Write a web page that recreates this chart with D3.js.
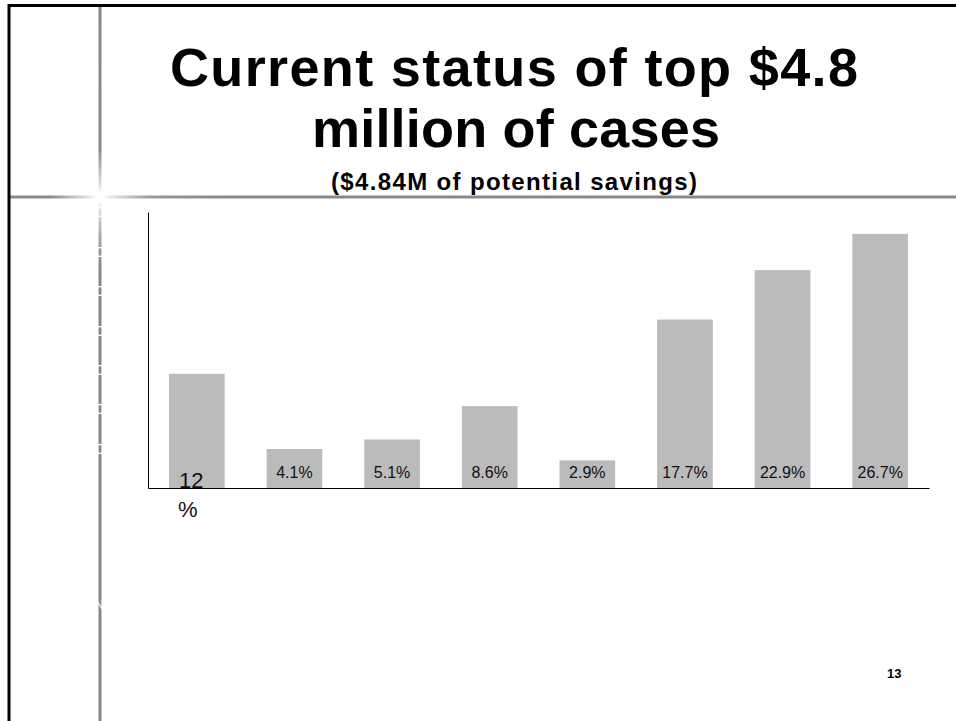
<!DOCTYPE html>
<meta charset="utf-8">
<style>
body { margin: 0; background: #fff; }
.bar { fill: #bbbbbb; }
.axis path, .axis line { stroke: #000; }
.ghost path, .ghost line { display: none; }
</style>
<svg width="956" height="721"></svg>
<script src="https://d3js.org/d3.v7.min.js"></script>
<script>

// bar values (share of the $4.84M), in order
var categories = ["12%", "4.1%", "5.1%", "8.6%", "2.9%", "17.7%", "22.9%", "26.7%"];
var values = [12, 4.1, 5.1, 8.6, 2.9, 17.7, 22.9, 26.7];
var labels = ["12%", "4.1%", "5.1%", "8.6%", "2.9%", "17.7%", "22.9%", "26.7%"];
var yMax = 29;

// leftover y tick labels, only visible where they cross the grey rule
var ghostTicks = [1, 2, 3, 4, 5, 6, 7];

var titleLines = ["Current status of top $4.8", "million of cases"];
var subtitle = "($4.84M of potential savings)";
var pageNo = "13";

var svg = d3.select("svg"),
    margin = {top: 212, right: 27, bottom: 233, left: 148},
    width = +svg.attr("width") - margin.left - margin.right,
    height = +svg.attr("height") - margin.top - margin.bottom;

// slide frame
var defs = svg.append("defs");

var hg = defs.append("linearGradient")
    .attr("id", "hrule")
    .attr("gradientUnits", "userSpaceOnUse")
    .attr("x1", 8).attr("x2", 956).attr("y1", 0).attr("y2", 0);
[[8, "#888"], [50, "#8a8a8a"], [100, "#fff"], [150, "#999"], [230, "#888"], [956, "#888"]]
  .forEach(function(s) {
    hg.append("stop").attr("offset", (s[0] - 8) / 948).attr("stop-color", s[1]);
  });

var vg = defs.append("linearGradient")
    .attr("id", "vrule")
    .attr("gradientUnits", "userSpaceOnUse")
    .attr("x1", 0).attr("x2", 0).attr("y1", 5).attr("y2", 721);
[[5, "#888"], [150, "#8a8a8a"], [197, "#fff"], [235, "#aaa"], [270, "#888"], [721, "#888"]]
  .forEach(function(s) {
    vg.append("stop").attr("offset", (s[0] - 5) / 716).attr("stop-color", s[1]);
  });

var glow = defs.append("radialGradient").attr("id", "glow");
glow.append("stop").attr("offset", 0).attr("stop-color", "#fff").attr("stop-opacity", 1);
glow.append("stop").attr("offset", 0.5).attr("stop-color", "#fff").attr("stop-opacity", 0.8);
glow.append("stop").attr("offset", 1).attr("stop-color", "#fff").attr("stop-opacity", 0);

svg.append("line")
    .attr("x1", 8).attr("x2", 956).attr("y1", 197).attr("y2", 197)
    .attr("stroke", "url(#hrule)").attr("stroke-width", 3);
svg.append("line")
    .attr("x1", 100).attr("x2", 100).attr("y1", 5).attr("y2", 721)
    .attr("stroke", "url(#vrule)").attr("stroke-width", 3);
svg.append("circle")
    .attr("cx", 100).attr("cy", 197).attr("r", 9)
    .attr("fill", "url(#glow)");

svg.append("line")
    .attr("x1", 9).attr("x2", 956).attr("y1", 5.5).attr("y2", 5.5)
    .attr("stroke", "#000").attr("stroke-width", 3);
svg.append("line")
    .attr("x1", 9).attr("x2", 9).attr("y1", 4).attr("y2", 721)
    .attr("stroke", "#000").attr("stroke-width", 3);

// titles
svg.append("text")
    .attr("x", 170).attr("y", 86)
    .attr("textLength", 688).attr("lengthAdjust", "spacing")
    .style("font", "bold 54px 'Liberation Sans', Arial, sans-serif")
    .text(titleLines[0]);
svg.append("text")
    .attr("x", 312).attr("y", 147)
    .attr("textLength", 408).attr("lengthAdjust", "spacing")
    .style("font", "bold 54px 'Liberation Sans', Arial, sans-serif")
    .text(titleLines[1]);
svg.append("text")
    .attr("x", 331).attr("y", 190)
    .attr("textLength", 366).attr("lengthAdjust", "spacing")
    .style("font", "bold 24px 'Liberation Sans', Arial, sans-serif")
    .text(subtitle);

svg.append("text")
    .attr("x", 887).attr("y", 678)
    .style("font", "bold 13px 'Liberation Sans', Arial, sans-serif")
    .text(pageNo);

// white tick labels left behind on the rule
var ghostY = d3.scaleLinear().domain([0, 7]).range([488, 212]);
svg.append("g")
    .attr("class", "ghost")
    .attr("transform", "translate(104,0)")
    .call(d3.axisLeft(ghostY).tickValues(ghostTicks).tickSize(0).tickPadding(0).tickFormat(function() { return "0"; }))
    .selectAll("text")
    .attr("fill", "#fff")
    .style("font", "15px 'Liberation Sans', Arial, sans-serif");

svg.append("text")
    .attr("x", 104).attr("y", 609)
    .attr("text-anchor", "end")
    .attr("fill", "#fff")
    .style("font", "13px 'Liberation Sans', Arial, sans-serif")
    .text("N");

// chart
var x = d3.scaleBand().range([0, width]).paddingInner(0.43).paddingOuter(0.215),
    y = d3.scaleLinear().range([height, 0]);

var g = svg.append("g")
    .attr("transform", "translate(" + margin.left + "," + margin.top + ")");

x.domain(categories);
y.domain([0, yMax]);

g.selectAll(".bar")
  .data(values)
  .enter().append("rect")
    .attr("class", "bar")
    .attr("x", function(d, i) { return x(categories[i]); })
    .attr("y", function(d) { return y(d); })
    .attr("width", x.bandwidth())
    .attr("height", function(d) { return height - y(d); });

g.selectAll(".lbl")
  .data(values.slice(1))
  .enter().append("text")
    .attr("class", "lbl")
    .attr("x", function(d, i) { return x(categories[i + 1]) + x.bandwidth() / 2; })
    .attr("y", height - 10)
    .attr("text-anchor", "middle")
    .style("font", "16px 'Liberation Sans', Arial, sans-serif")
    .attr("fill", "#111")
    .text(function(d, i) { return labels[i + 1]; });

// the first label wraps onto two lines
var first = g.append("text")
    .attr("x", x(categories[0]) + 10)
    .attr("y", y(0))
    .style("font", "22px 'Liberation Sans', Arial, sans-serif")
    .attr("fill", "#111");
first.append("tspan").text(labels[0].replace("%", ""));
first.append("tspan")
    .attr("x", x(categories[0]) + 9)
    .attr("dy", 29)
    .text("%");

g.append("g")
    .attr("class", "axis axis--x")
    .attr("transform", "translate(0," + height + ")")
    .call(d3.axisBottom(x).tickSize(0).tickFormat(""));

g.append("g")
    .attr("class", "axis axis--y")
    .call(d3.axisLeft(y).tickSize(0).tickFormat(""));

</script>
